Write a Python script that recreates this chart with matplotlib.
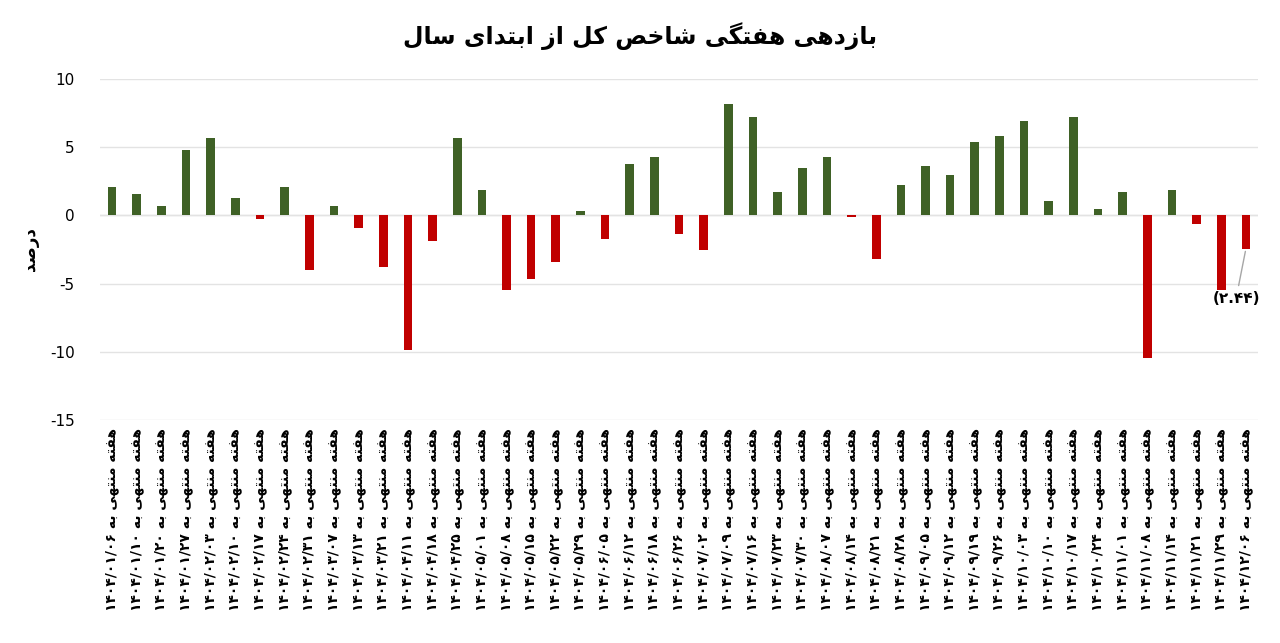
import matplotlib
matplotlib.use('Agg')
import matplotlib.pyplot as plt
import re

# Weekly end dates (Persian calendar, 1404) and weekly return of the total index (%)
dates = ['01/06', '01/10', '01/20', '01/27', '02/03', '02/10', '02/17', '02/24', '02/31', '03/07',
         '03/13', '03/21', '04/11', '04/18', '04/25', '05/01', '05/08', '05/15', '05/22', '05/29',
         '06/05', '06/12', '06/18', '06/26', '07/02', '07/09', '07/16', '07/23', '07/30', '08/07',
         '08/14', '08/21', '08/28', '09/05', '09/12', '09/19', '09/26', '10/03', '10/10', '10/17',
         '10/24', '11/01', '11/08', '11/14', '11/21', '11/29', '12/06']
returns = [2.06, 1.55, 0.7, 4.8, 5.7, 1.3, -0.3, 2.1, -4.0, 0.7,
           -0.9, -3.75, -9.85, -1.9, 5.65, 1.85, -5.45, -4.7, -3.4, 0.35,
           -1.75, 3.8, 4.25, -1.4, -2.55, 8.15, 7.25, 1.7, 3.5, 4.25,
           -0.15, -3.2, 2.25, 3.6, 3.0, 5.35, 5.8, 6.9, 1.05, 7.2,
           0.45, 1.7, -10.45, 1.9, -0.65, -5.45, -2.44]
yticks = [10, 5, 0, -5, -10, -15]

FA_DIGITS = str.maketrans('0123456789', '۰۱۲۳۴۵۶۷۸۹')

# Minimal Persian shaping (iso, fin, ini, med); None = no left joining
FORMS = {
    'ا': ('\uFE8D', '\uFE8E', None, None), 'ب': ('\uFE8F', '\uFE90', '\uFE91', '\uFE92'),
    'ت': ('\uFE95', '\uFE96', '\uFE97', '\uFE98'), 'خ': ('\uFEA5', '\uFEA6', '\uFEA7', '\uFEA8'),
    'د': ('\uFEA9', '\uFEAA', None, None), 'ر': ('\uFEAD', '\uFEAE', None, None),
    'ز': ('\uFEAF', '\uFEB0', None, None), 'س': ('\uFEB1', '\uFEB2', '\uFEB3', '\uFEB4'),
    'ش': ('\uFEB5', '\uFEB6', '\uFEB7', '\uFEB8'), 'ص': ('\uFEB9', '\uFEBA', '\uFEBB', '\uFEBC'),
    'ف': ('\uFED1', '\uFED2', '\uFED3', '\uFED4'), 'ل': ('\uFEDD', '\uFEDE', '\uFEDF', '\uFEE0'),
    'م': ('\uFEE1', '\uFEE2', '\uFEE3', '\uFEE4'), 'ن': ('\uFEE5', '\uFEE6', '\uFEE7', '\uFEE8'),
    'ه': ('\uFEE9', '\uFEEA', '\uFEEB', '\uFEEC'), 'ی': ('\uFBFC', '\uFBFD', '\uFBFE', '\uFBFF'),
    'ک': ('\uFB8E', '\uFB8F', '\uFB90', '\uFB91'), 'گ': ('\uFB92', '\uFB93', '\uFB94', '\uFB95'),
}

def shape(text):
    out = []
    for i, ch in enumerate(text):
        if ch not in FORMS:
            out.append(ch)
            continue
        prev = text[i - 1] if i > 0 else ''
        nxt = text[i + 1] if i + 1 < len(text) else ''
        joinPrev = prev in FORMS and FORMS[prev][2] is not None
        joinNext = nxt in FORMS and FORMS[ch][2] is not None
        iso, fin, ini, med = FORMS[ch]
        if joinPrev and joinNext:
            out.append(med)
        elif joinPrev:
            out.append(fin)
        elif joinNext:
            out.append(ini)
        else:
            out.append(iso)
    # visual order: reverse, but keep number runs left-to-right
    runs = re.findall(r'[۰-۹0-9/.]+|[^۰-۹0-9/.]+', ''.join(out))
    return ''.join(r if re.match(r'[۰-۹0-9]', r) else r[::-1] for r in reversed(runs))

def fa(text):
    try:
        import arabic_reshaper
        from bidi.algorithm import get_display
        return get_display(arabic_reshaper.reshape(text))
    except ImportError:
        return shape(text)

plt.rcParams['font.family'] = ['DejaVu Sans']

labels = [fa('هفته منتهی به ' + ('1404/' + d).translate(FA_DIGITS)) for d in dates]
colors = ['#3f6126' if v >= 0 else '#c00000' for v in returns]
x = list(range(len(returns)))

fig = plt.figure(figsize=(12.8, 6.43), dpi=100)
ax = fig.add_axes([0.078, 0.347, 0.905, 0.53])
ax.bar(x, returns, width=0.35, color=colors, zorder=2)
ax.set_xlim(-0.5, len(returns) - 0.5)
ax.set_ylim(-15, 10)
ax.set_yticks(yticks)
ax.set_yticklabels([str(t) for t in yticks], fontsize=11)
ax.yaxis.grid(True, color='#e3e3e3', linewidth=1, zorder=0)
ax.set_xticks(x)
ax.set_xticklabels(labels, rotation=90, fontsize=10, fontweight='bold')
ax.tick_params(length=0)
ax.tick_params(axis='x', pad=6)
ax.tick_params(axis='y', pad=18)
for s in ax.spines.values():
    s.set_visible(False)
ax.axhline(0, color='#e3e3e3', linewidth=1, zorder=1)

ax.set_ylabel(fa('درصد'), fontsize=12, fontweight='bold', labelpad=8)
fig.suptitle(fa('بازدهی هفتگی شاخص کل از ابتدای سال'), fontsize=17, fontweight='bold', y=0.965)

# Label for the last week
last = len(returns) - 1
ax.annotate('(' + f'{abs(returns[last]):.2f}'.translate(FA_DIGITS) + ')',
            xy=(last, returns[last]), xytext=(last - 0.4, -6.1), ha='center', va='center',
            fontsize=11, fontweight='bold',
            arrowprops=dict(arrowstyle='-', color='#a6a6a6', lw=1))

fig.savefig('out.png', dpi=100)
